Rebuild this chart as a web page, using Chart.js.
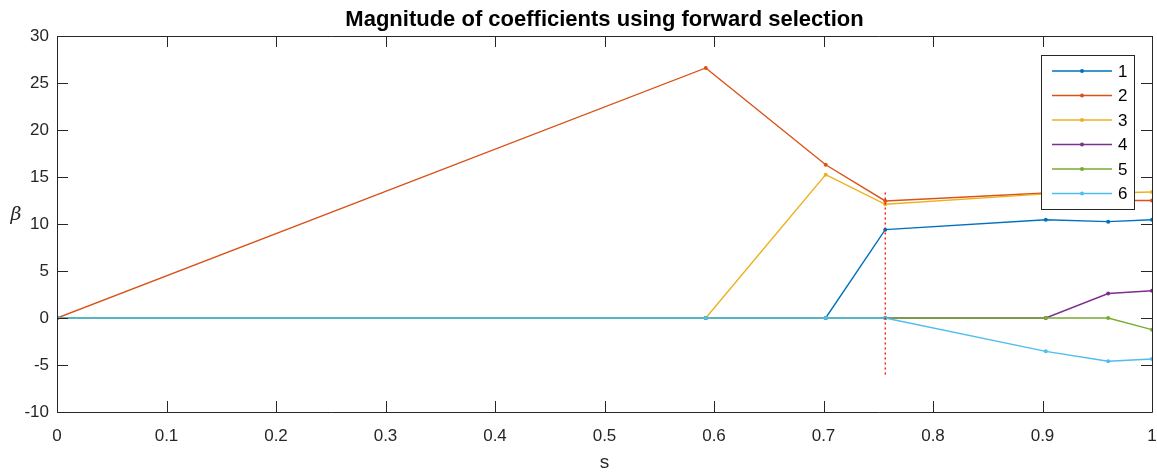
<!DOCTYPE html>
<html>
<head>
<meta charset="utf-8">
<script src="https://cdn.jsdelivr.net/npm/chart.js@4/dist/chart.umd.min.js"></script>
<style>
  html, body { margin: 0; padding: 0; background: #fff; }
  #wrap { width: 1157px; height: 472px; position: relative; }
</style>
</head>
<body>
<div id="wrap"><canvas id="c" width="1157" height="472"></canvas></div>
<script>
// Regularisation path: shrinkage factor s and coefficient values beta_j
const sValues = [0, 0.5925, 0.702, 0.7564, 0.903, 0.960, 1];
const beta1 = [0, 0, 0, 9.4, 10.45, 10.25, 10.45];
const beta2 = [0, 26.6, 16.3, 12.45, 13.3, 12.5, 12.5];
const beta3 = [0, 0, 15.25, 12.1, 13.2, 13.3, 13.4];
const beta4 = [0, 0, 0, 0, 0, 2.6, 2.9];
const beta5 = [0, 0, 0, 0, 0, 0, -1.24];
const beta6 = [0, 0, 0, 0, -3.55, -4.6, -4.36];
const seriesLabels = ['1', '2', '3', '4', '5', '6'];

// chosen model marker (vertical dotted line)
const cutoffS = 0.7564;
const cutoffRange = [-6, 13.5];

const xTicks = [0, 0.1, 0.2, 0.3, 0.4, 0.5, 0.6, 0.7, 0.8, 0.9, 1];
const yTicks = [-10, -5, 0, 5, 10, 15, 20, 25, 30];
const xTickLabels = ['0', '0.1', '0.2', '0.3', '0.4', '0.5', '0.6', '0.7', '0.8', '0.9', '1'];
const yTickLabels = ['-10', '-5', '0', '5', '10', '15', '20', '25', '30'];

const titleText = 'Magnitude of coefficients using forward selection';
const xTitle = 's';
const yTitle = 'β';

const colors = ['#0072BD', '#D95319', '#EDB120', '#7E2F8E', '#77AC30', '#4DBEEE'];
const axisColor = '#262626';
const FONT = '"Liberation Sans", Arial, sans-serif';

const allBeta = [beta1, beta2, beta3, beta4, beta5, beta6];

const datasets = allBeta.map((vals, i) => ({
  label: seriesLabels[i],
  data: vals.map((v, k) => ({ x: sValues[k], y: v })),
  borderColor: colors[i],
  backgroundColor: colors[i],
  borderWidth: 1.4,
  pointRadius: 2,
  pointBorderWidth: 0,
  pointHoverRadius: 2,
  tension: 0,
  order: 10 - i
}));

datasets.push({
  label: 'cutoff',
  data: cutoffRange.map(v => ({ x: cutoffS, y: v })),
  borderColor: '#FF0000',
  borderWidth: 1.3,
  borderDash: [2, 3],
  pointRadius: 0,
  order: 0
});

// Box, inward ticks, titles and legend in the MATLAB figure style
const decor = {
  id: 'decor',
  afterDatasetsDraw(chart) {
    const { ctx, chartArea: a, scales } = chart;
    const xs = scales.x, ys = scales.y;
    ctx.save();
    ctx.strokeStyle = axisColor;
    ctx.lineWidth = 1;
    ctx.beginPath();
    ctx.rect(Math.round(a.left) + 0.5, Math.round(a.top) + 0.5,
             Math.round(a.right - a.left), Math.round(a.bottom - a.top));
    ctx.stroke();
    const tl = 11;
    ctx.beginPath();
    xTicks.forEach(t => {
      const px = Math.round(xs.getPixelForValue(t)) + 0.5;
      ctx.moveTo(px, a.bottom); ctx.lineTo(px, a.bottom - tl);
      ctx.moveTo(px, a.top); ctx.lineTo(px, a.top + tl);
    });
    yTicks.forEach(t => {
      const py = Math.round(ys.getPixelForValue(t)) + 0.5;
      ctx.moveTo(a.left, py); ctx.lineTo(a.left + tl, py);
      ctx.moveTo(a.right, py); ctx.lineTo(a.right - tl, py);
    });
    ctx.stroke();

    // title
    ctx.fillStyle = '#000';
    ctx.font = 'bold 22px ' + FONT;
    ctx.textAlign = 'center';
    ctx.textBaseline = 'alphabetic';
    ctx.fillText(titleText, (a.left + a.right) / 2, 26);

    // axis titles
    ctx.fillStyle = axisColor;
    ctx.font = '19px ' + FONT;
    ctx.fillText(xTitle, (a.left + a.right) / 2, 468);
    ctx.font = 'italic 19px "DejaVu Serif", serif';
    ctx.fillText(yTitle, 16, 220);

    // legend
    const lx = 1041, ly = 55, lw = 93, lh = 154;
    ctx.fillStyle = '#fff';
    ctx.fillRect(lx, ly, lw, lh);
    ctx.strokeStyle = axisColor;
    ctx.strokeRect(lx + 0.5, ly + 0.5, lw, lh);
    ctx.font = '17px ' + FONT;
    ctx.textAlign = 'left';
    ctx.textBaseline = 'middle';
    seriesLabels.forEach((lab, i) => {
      const y = 71 + i * 24.5;
      ctx.strokeStyle = colors[i];
      ctx.lineWidth = 1.4;
      ctx.beginPath();
      ctx.moveTo(1052, y); ctx.lineTo(1112, y);
      ctx.stroke();
      ctx.fillStyle = colors[i];
      ctx.beginPath();
      ctx.arc(1082, y, 2, 0, Math.PI * 2);
      ctx.fill();
      ctx.fillStyle = '#000';
      ctx.fillText(lab, 1118, y + 1);
    });
    ctx.restore();
  }
};

new Chart(document.getElementById('c'), {
  type: 'line',
  data: { datasets },
  options: {
    responsive: false,
    animation: false,
    devicePixelRatio: 1,
    layout: { padding: { left: 0, right: 5, top: 36, bottom: 0 } },
    plugins: { legend: { display: false }, tooltip: { enabled: false }, title: { display: false } },
    scales: {
      x: {
        type: 'linear',
        min: 0, max: 1,
        afterBuildTicks: s => { s.ticks = xTicks.map(v => ({ value: v })); },
        afterFit: s => { s.height = 60; s.paddingLeft = 0; s.paddingRight = 0; },
        grid: { display: false, drawTicks: false },
        border: { display: false },
        ticks: {
          padding: 14,
          color: axisColor,
          font: { family: FONT, size: 17 },
          maxRotation: 0,
          autoSkip: false,
          callback: (v) => xTickLabels[xTicks.findIndex(t => Math.abs(t - v) < 1e-9)]
        }
      },
      y: {
        type: 'linear',
        min: -10, max: 30,
        afterBuildTicks: s => { s.ticks = yTicks.map(v => ({ value: v })); },
        afterFit: s => { s.width = 57; s.paddingTop = 0; s.paddingBottom = 0; },
        grid: { display: false, drawTicks: false },
        border: { display: false },
        ticks: {
          padding: 8,
          color: axisColor,
          font: { family: FONT, size: 17 },
          autoSkip: false,
          callback: (v) => yTickLabels[yTicks.indexOf(v)]
        }
      }
    }
  },
  plugins: [decor]
});
</script>
</body>
</html>
